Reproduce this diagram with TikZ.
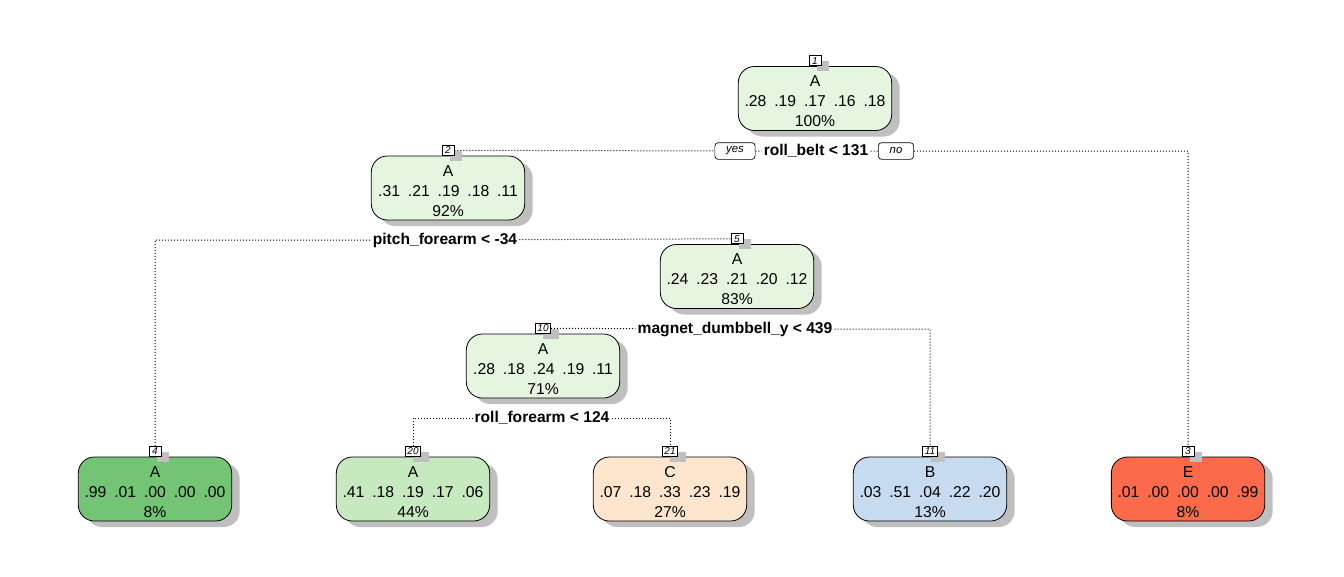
\documentclass[tikz,border=0pt]{standalone}
\usepackage{fontspec}
\setmainfont{Liberation Sans}
\usetikzlibrary{positioning,shadows,backgrounds}
\definecolor{innerfill}{HTML}{E5F5E0}
\definecolor{leafA}{HTML}{74C476}
\definecolor{leafAlight}{HTML}{C7E9C0}
\definecolor{leafB}{HTML}{C6DBEF}
\definecolor{leafC}{HTML}{FEE6CE}
\definecolor{leafE}{HTML}{FB6A4A}
\def\pp{\hspace{0.5em}}
\tikzset{x=0.75pt, y=-0.75pt,
  tree box/.style={draw=black, line width=0.6pt, rounded corners=12pt, align=center,
      minimum width=115pt, minimum height=48pt, inner sep=2pt,
      font=\fontsize{11.8}{15}\selectfont,
      drop shadow={shadow xshift=6pt, shadow yshift=-4.5pt, fill=black!25, opacity=1}},
  node number/.style={draw=black, line width=0.5pt, fill=white, inner xsep=1.5pt, inner ysep=0pt,
      minimum height=7.5pt, minimum width=9pt, font=\fontsize{7.5}{8}\selectfont\itshape,
      drop shadow={shadow xshift=6pt, shadow yshift=-4pt, fill=black!25, opacity=1}},
  split label/.style={fill=white, inner sep=1.5pt, font=\fontsize{11.7}{14}\selectfont\bfseries},
  answer box/.style={draw=black, line width=0.5pt, fill=white, rounded corners=2.5pt,
      inner xsep=8.5pt, inner ysep=0pt, minimum height=12.5pt,
      font=\fontsize{8.5}{10}\selectfont\itshape},
  tree link/.style={draw=black, line width=0.75pt, dash pattern=on 0.75pt off 1.5pt}
}
\def\TreeNode#1#2#3#4#5#6{%
 \node[tree box, fill=#3] (n#1) at (#2) {\rule{0pt}{12.8pt}#4\\#5\\#6};
 \node[node number, above=0pt of n#1.north] (lbl#1) {#1};
}
\def\Split#1#2#3{%
 \node[split label] (#1) at (#2) {#3};
}

\begin{document}
\begin{tikzpicture}
\useasboundingbox (0,0) rectangle (1344,576);
\TreeNode{1}{815,98.5}{innerfill}{A}{.28\pp.19\pp.17\pp.16\pp.18}{100\%}
\TreeNode{2}{448,188}{innerfill}{A}{.31\pp.21\pp.19\pp.18\pp.11}{92\%}
\TreeNode{5}{737,276.5}{innerfill}{A}{.24\pp.23\pp.21\pp.20\pp.12}{83\%}
\TreeNode{10}{543,366}{innerfill}{A}{.28\pp.18\pp.24\pp.19\pp.11}{71\%}
\TreeNode{4}{155,489}{leafA}{A}{.99\pp.01\pp.00\pp.00\pp.00}{8\%}
\TreeNode{20}{413,489}{leafAlight}{A}{.41\pp.18\pp.19\pp.17\pp.06}{44\%}
\TreeNode{21}{670,489}{leafC}{C}{.07\pp.18\pp.33\pp.23\pp.19}{27\%}
\TreeNode{11}{930,489}{leafB}{B}{.03\pp.51\pp.04\pp.22\pp.20}{13\%}
\TreeNode{3}{1188,489}{leafE}{E}{.01\pp.00\pp.00\pp.00\pp.99}{8\%}
\Split{s1}{816,151}{roll\_belt < 131}
\Split{s2}{445,240}{pitch\_forearm < -34}
\Split{s5}{735,329}{magnet\_dumbbell\_y < 439}
\Split{s10}{542,418}{roll\_forearm < 124}
\node[answer box] (yes) at (735,151) {yes};
\node[answer box] (no) at (896,151) {no};
\begin{scope}[on background layer]
  \draw[tree link] (lbl2) -- (yes) -- (s1) -- (no) -| (lbl3);
  \draw[tree link] (lbl4) |- (s2) -- (lbl5);
  \draw[tree link] (lbl10) -- (s5) -| (lbl11);
  \draw[tree link] (lbl20) |- (s10) -| (lbl21);
\end{scope}
\end{tikzpicture}
\end{document}
